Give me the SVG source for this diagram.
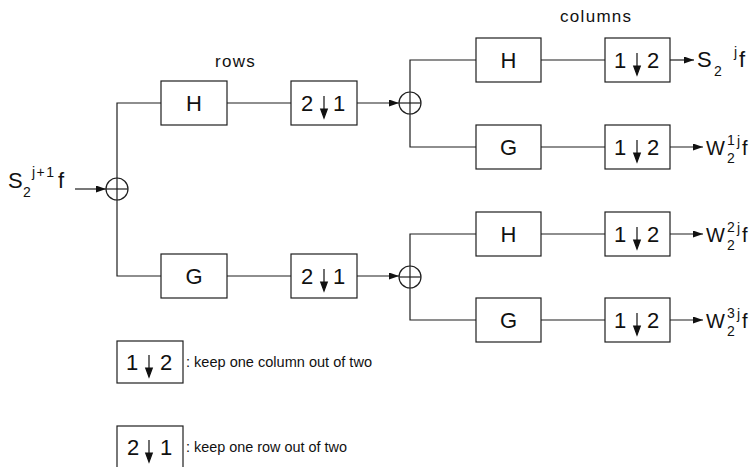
<svg xmlns="http://www.w3.org/2000/svg" xmlns:xlink="http://www.w3.org/1999/xlink" width="750" height="467" viewBox="0 0 750 467">
  <style>
    .box { fill: #fff; stroke: #1e1e1e; stroke-width: 1.2; }
    .wire { fill: none; stroke: #1e1e1e; stroke-width: 1.2; }
    .sum { fill: none; stroke: #1e1e1e; stroke-width: 1.2; }
    .big { font-family: "Liberation Sans", Arial, sans-serif; font-size: 22px; fill: #111; text-anchor: middle; }
    .lbl { font-family: "Liberation Sans", Arial, sans-serif; font-size: 22px; fill: #111; }
    .lblw { font-size: 20px; }
    .scr { font-size: 14px; }
    .cap { font-family: "Liberation Sans", Arial, sans-serif; font-size: 17px; fill: #111; letter-spacing: 1.3px; }
    .note { font-family: "Liberation Sans", Arial, sans-serif; font-size: 14.6px; fill: #111; }
    .dn { fill: #111; stroke: #111; stroke-width: 1.2; }
  </style>
  <defs>
    <marker id="head" markerUnits="userSpaceOnUse" markerWidth="11" markerHeight="8" refX="10" refY="3.5" orient="auto">
      <path d="M0,0 L10,3.5 L0,7 Z" fill="#111"/>
    </marker>
    <!-- downward arrow used inside the downsampling boxes, origin at box centre -->
    <path id="dnArrow" d="M0,-7 V7 M-3.3,6 L0,15 L3.3,6 Z"/>
  </defs>

  <!-- section headings -->
  <text class="cap" x="215" y="67">rows</text>
  <text class="cap" x="560" y="22">columns</text>

  <!-- connectors -->
  <g id="connectors" class="wire">
    <path d="M75,189 H106" marker-end="url(#head)"/>
    <path d="M161,103 H117 V276 H161"/>
    <path d="M227,103 H291"/>
    <path d="M357,103 H399" marker-end="url(#head)"/>
    <path d="M227,276 H291"/>
    <path d="M357,276 H399" marker-end="url(#head)"/>
    <path d="M476,60 H410 V147 H476"/>
    <path d="M541,60 H605"/>
    <path d="M670,60 H694" marker-end="url(#head)"/>
    <path d="M541,147 H605"/>
    <path d="M670,147 H703" marker-end="url(#head)"/>
    <path d="M476,234 H410 V320 H476"/>
    <path d="M541,234 H605"/>
    <path d="M670,234 H703" marker-end="url(#head)"/>
    <path d="M541,320 H605"/>
    <path d="M670,320 H703" marker-end="url(#head)"/>
  </g>

  <!-- input signal -->
  <g id="input">
    <text class="lbl" x="8" y="188">S<tspan class="scr" x="23" y="197">2</tspan><tspan class="scr" x="32" y="177" letter-spacing="1.5">j+1</tspan><tspan x="58" y="188">f</tspan></text>
  </g>

  <!-- summing junctions -->
  <g id="sum-in" class="sum">
    <circle cx="117" cy="189" r="11"/>
    <path d="M106,189 H128"/>
  </g>
  <g id="sum-top" class="sum">
    <circle cx="410" cy="103" r="11"/>
    <path d="M399,103 H421"/>
  </g>
  <g id="sum-bottom" class="sum">
    <circle cx="410" cy="277" r="11"/>
    <path d="M399,277 H421"/>
  </g>

  <!-- row filters -->
  <g id="row-H">
    <rect class="box" x="161" y="81" width="66" height="44"/>
    <text class="big" x="194" y="111">H</text>
  </g>
  <g id="row-G">
    <rect class="box" x="161" y="254" width="66" height="44"/>
    <text class="big" x="194" y="284">G</text>
  </g>

  <!-- row downsamplers -->
  <g id="row-down-top">
    <rect class="box" x="291" y="81" width="66" height="44"/>
    <text class="big" x="307" y="111">2</text>
    <use href="#dnArrow" xlink:href="#dnArrow" class="dn" x="324" y="103"/>
    <text class="big" x="339" y="111">1</text>
  </g>
  <g id="row-down-bottom">
    <rect class="box" x="291" y="254" width="66" height="44"/>
    <text class="big" x="307" y="284">2</text>
    <use href="#dnArrow" xlink:href="#dnArrow" class="dn" x="324" y="276"/>
    <text class="big" x="339" y="284">1</text>
  </g>

  <!-- column filters -->
  <g id="col-H1">
    <rect class="box" x="476" y="38" width="65" height="44"/>
    <text class="big" x="508.5" y="68">H</text>
  </g>
  <g id="col-G1">
    <rect class="box" x="476" y="125" width="65" height="44"/>
    <text class="big" x="508.5" y="155">G</text>
  </g>
  <g id="col-H2">
    <rect class="box" x="476" y="212" width="65" height="44"/>
    <text class="big" x="508.5" y="242">H</text>
  </g>
  <g id="col-G2">
    <rect class="box" x="476" y="298" width="65" height="44"/>
    <text class="big" x="508.5" y="328">G</text>
  </g>

  <!-- column downsamplers -->
  <g id="col-down-1">
    <rect class="box" x="605" y="38" width="65" height="44"/>
    <text class="big" x="620" y="68">1</text>
    <use href="#dnArrow" xlink:href="#dnArrow" class="dn" x="637" y="60"/>
    <text class="big" x="653" y="68">2</text>
  </g>
  <g id="col-down-2">
    <rect class="box" x="605" y="125" width="65" height="44"/>
    <text class="big" x="620" y="155">1</text>
    <use href="#dnArrow" xlink:href="#dnArrow" class="dn" x="637" y="147"/>
    <text class="big" x="653" y="155">2</text>
  </g>
  <g id="col-down-3">
    <rect class="box" x="605" y="212" width="65" height="44"/>
    <text class="big" x="620" y="242">1</text>
    <use href="#dnArrow" xlink:href="#dnArrow" class="dn" x="637" y="234"/>
    <text class="big" x="653" y="242">2</text>
  </g>
  <g id="col-down-4">
    <rect class="box" x="605" y="298" width="65" height="44"/>
    <text class="big" x="620" y="328">1</text>
    <use href="#dnArrow" xlink:href="#dnArrow" class="dn" x="637" y="320"/>
    <text class="big" x="653" y="328">2</text>
  </g>

  <!-- outputs -->
  <g id="out-S">
    <text class="lbl" x="697" y="67">S<tspan class="scr" x="714" y="76">2</tspan><tspan class="scr" x="734" y="57">j</tspan><tspan x="739" y="67">f</tspan></text>
  </g>
  <g id="out-W1">
    <text class="lbl lblw" x="706" y="155">W<tspan class="scr" x="727" y="145">1</tspan><tspan class="scr" x="727" y="163">2</tspan><tspan class="scr" x="737" y="146">j</tspan><tspan x="742" y="155">f</tspan></text>
  </g>
  <g id="out-W2">
    <text class="lbl lblw" x="706" y="242">W<tspan class="scr" x="727" y="232">2</tspan><tspan class="scr" x="727" y="250">2</tspan><tspan class="scr" x="737" y="233">j</tspan><tspan x="742" y="242">f</tspan></text>
  </g>
  <g id="out-W3">
    <text class="lbl lblw" x="706" y="328">W<tspan class="scr" x="727" y="318">3</tspan><tspan class="scr" x="727" y="336">2</tspan><tspan class="scr" x="737" y="319">j</tspan><tspan x="742" y="328">f</tspan></text>
  </g>

  <!-- legend -->
  <g id="legend-col">
    <rect class="box" x="117" y="341" width="66" height="42"/>
    <text class="big" x="132" y="370">1</text>
    <use href="#dnArrow" xlink:href="#dnArrow" class="dn" x="149" y="362"/>
    <text class="big" x="166" y="370">2</text>
    <text class="note" x="186" y="367" textLength="186" lengthAdjust="spacingAndGlyphs">: keep one column out of two</text>
  </g>
  <g id="legend-row">
    <rect class="box" x="117" y="426" width="66" height="42"/>
    <text class="big" x="133" y="455">2</text>
    <use href="#dnArrow" xlink:href="#dnArrow" class="dn" x="149" y="447"/>
    <text class="big" x="166" y="455">1</text>
    <text class="note" x="186" y="452" textLength="161" lengthAdjust="spacingAndGlyphs">: keep one row out of two</text>
  </g>
</svg>
